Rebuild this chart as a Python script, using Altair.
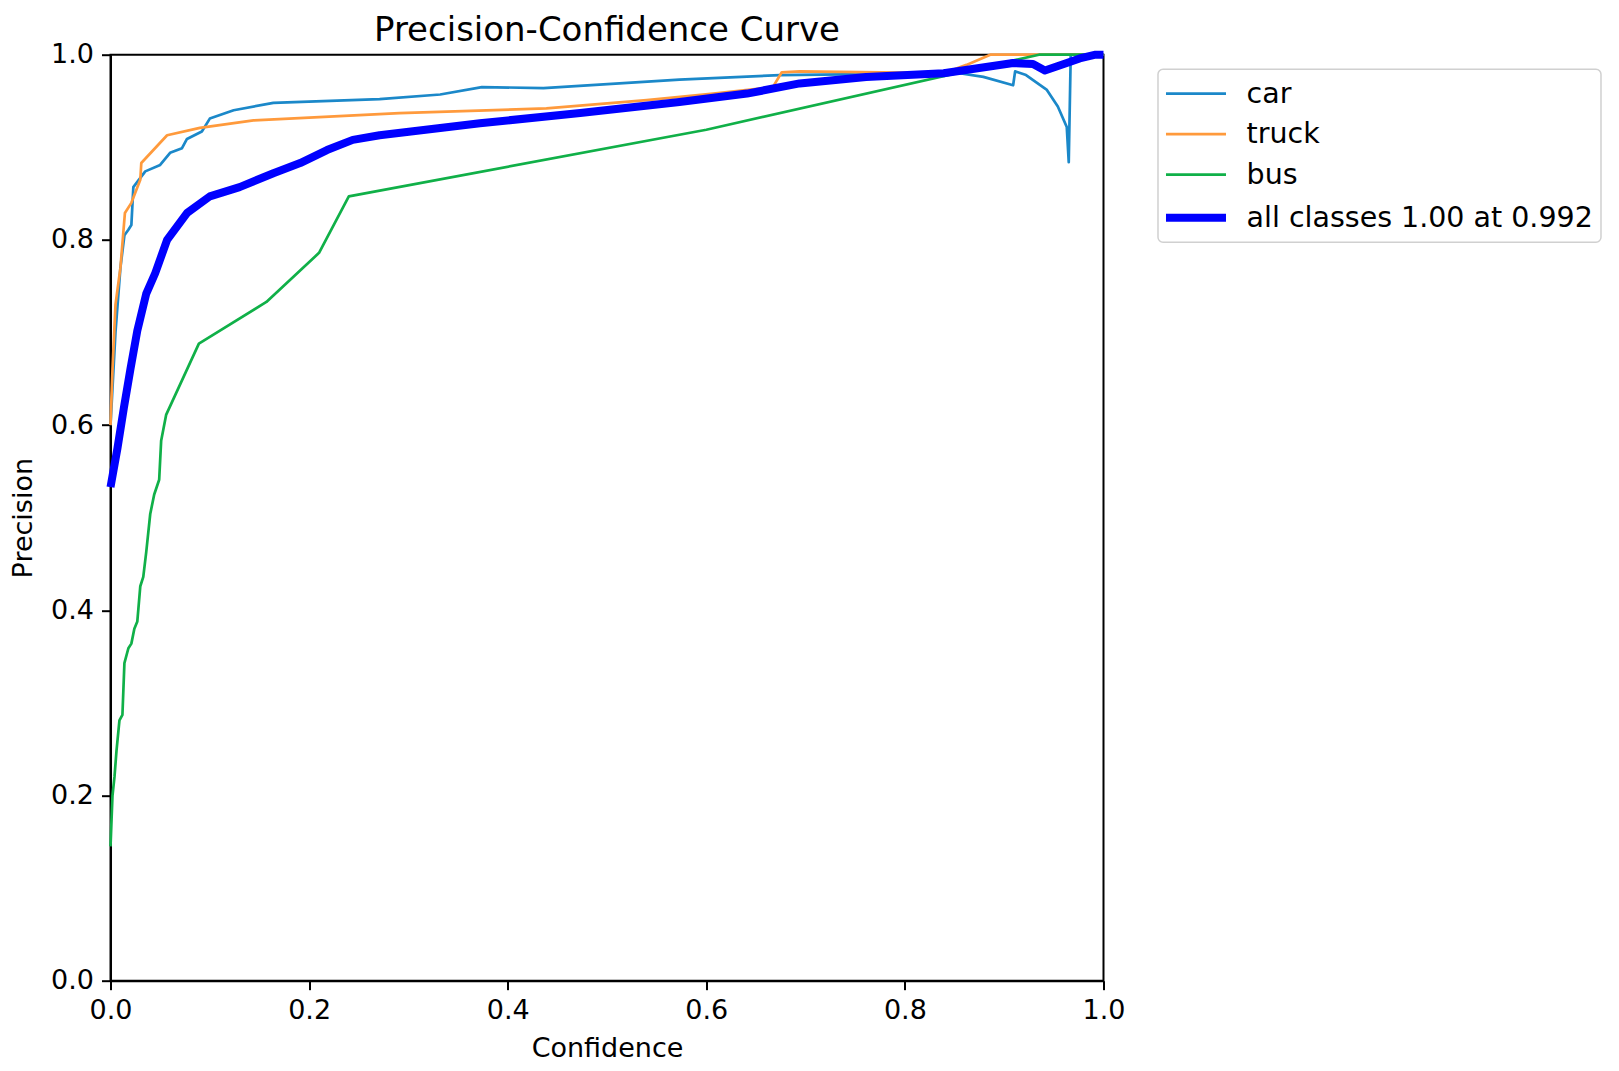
import altair as alt
import pandas as pd

# ---- data ----
series_names = ["car", "truck", "bus", "all classes 1.00 at 0.992"]
series_colors = ["#1b88c9", "#ff9a3c", "#10b048", "#0000ff"]
series_widths = [2.7, 2.7, 2.7, 8.0]

car_conf = [0.000, 0.005, 0.010, 0.014, 0.018, 0.021, 0.023, 0.035, 0.050, 0.060, 0.072, 0.077,
            0.092, 0.100, 0.124, 0.164, 0.271, 0.332, 0.374, 0.436, 0.573, 0.674, 0.760, 0.855,
            0.879, 0.909, 0.911, 0.922, 0.943, 0.954, 0.963, 0.965, 0.967, 1.000]
car_prec = [0.600, 0.700, 0.770, 0.805, 0.811, 0.816, 0.857, 0.874, 0.881, 0.894, 0.899, 0.909,
            0.917, 0.931, 0.940, 0.948, 0.952, 0.957, 0.965, 0.964, 0.973, 0.978, 0.979, 0.980,
            0.976, 0.967, 0.982, 0.978, 0.962, 0.944, 0.922, 0.884, 1.000, 1.000]

truck_conf = [0.000, 0.002, 0.005, 0.010, 0.0145, 0.021, 0.030, 0.031, 0.057, 0.090, 0.144,
              0.291, 0.439, 0.540, 0.607, 0.667, 0.676, 0.694, 0.839, 0.862, 0.886, 1.000]
truck_prec = [0.600, 0.660, 0.730, 0.770, 0.829, 0.840, 0.865, 0.883, 0.913, 0.921, 0.929,
              0.937, 0.942, 0.951, 0.958, 0.965, 0.981, 0.982, 0.980, 0.989, 1.000, 1.000]

bus_conf = [0.000, 0.002, 0.004, 0.006, 0.009, 0.012, 0.014, 0.018, 0.021, 0.024, 0.027, 0.030,
            0.033, 0.036, 0.040, 0.044, 0.049, 0.051, 0.056, 0.089, 0.157, 0.210, 0.240, 0.600,
            0.935, 1.000]
bus_prec = [0.145, 0.200, 0.220, 0.248, 0.281, 0.287, 0.343, 0.359, 0.364, 0.380, 0.388, 0.426,
            0.436, 0.463, 0.504, 0.525, 0.541, 0.583, 0.611, 0.688, 0.733, 0.786, 0.847, 0.919,
            1.000, 1.000]

all_conf = [0.000, 0.007, 0.0135, 0.020, 0.027, 0.036, 0.045, 0.057, 0.077, 0.100, 0.130, 0.164,
            0.191, 0.218, 0.244, 0.271, 0.372, 0.473, 0.573, 0.641, 0.694, 0.761, 0.839, 0.909,
            0.929, 0.941, 0.963, 0.976, 0.992, 1.000]
all_prec = [0.533, 0.575, 0.619, 0.660, 0.702, 0.742, 0.764, 0.800, 0.829, 0.847, 0.857, 0.872,
            0.883, 0.897, 0.908, 0.913, 0.926, 0.937, 0.949, 0.958, 0.969, 0.976, 0.980, 0.991,
            0.990, 0.983, 0.991, 0.996, 1.000, 1.000]

tick_values = [0.0, 0.2, 0.4, 0.6, 0.8, 1.0]

# ---- build long table ----
rows = []
for name, cx, py in zip(series_names,
                        [car_conf, truck_conf, bus_conf, all_conf],
                        [car_prec, truck_prec, bus_prec, all_prec]):
    for i, (c, p) in enumerate(zip(cx, py)):
        rows.append({"series": name, "conf": c, "prec": p, "idx": i})
df = pd.DataFrame(rows)

FONT = "DejaVu Sans"

chart = alt.Chart(df).mark_line(strokeCap="butt", strokeJoin="round").encode(
    x=alt.X("conf:Q",
            scale=alt.Scale(domain=[0, 1], nice=False, zero=False),
            axis=alt.Axis(title="Confidence", values=tick_values, format=".1f",
                          titleY=68, titleBaseline="middle")),
    y=alt.Y("prec:Q",
            scale=alt.Scale(domain=[0, 1], nice=False, zero=False),
            axis=alt.Axis(title="Precision", values=tick_values, format=".1f",
                          titleX=-87, titleBaseline="middle")),
    color=alt.Color("series:N",
                    scale=alt.Scale(domain=series_names, range=series_colors),
                    legend=alt.Legend(title=None)),
    strokeWidth=alt.StrokeWidth("series:N",
                                scale=alt.Scale(type="ordinal", domain=series_names,
                                                range=series_widths),
                                legend=alt.Legend(title=None)),
    detail="series:N",
    order="idx:Q",
).properties(
    width=993,
    height=926,
    title=alt.TitleParams("Precision-Confidence Curve", fontSize=34, font=FONT,
                          fontWeight="normal", color="black", anchor="middle",
                          baseline="alphabetic", offset=-34),
    autosize=alt.AutoSizeParams(type="none"),
    padding={"left": 102.5, "top": 46.7, "right": 507, "bottom": 82},
).configure_view(
    stroke="black", strokeWidth=2
).configure_axis(
    grid=False,
    labelFont=FONT, labelFontSize=27, labelColor="black", labelFlush=False,
    titleFont=FONT, titleFontSize=27, titleColor="black", titleFontWeight="normal",
    tickColor="black", tickSize=9, tickWidth=2,
    domainColor="black", domainWidth=2,
    labelPadding=8,
).configure_legend(
    orient="none", legendX=1047.5, legendY=14.5,
    labelFont=FONT, labelFontSize=28.5, labelColor="black", labelLimit=0,
    labelOffset=31.6, symbolOffset=11,
    symbolType="M-2,0L2,0", symbolSize=900,
    strokeColor="#d0d0d0", strokeWidth=1.5, cornerRadius=5,
    padding=8, rowPadding=9.5, fillColor="white",
)

chart.save("out.html", embed_options={"renderer": "svg", "actions": False})
